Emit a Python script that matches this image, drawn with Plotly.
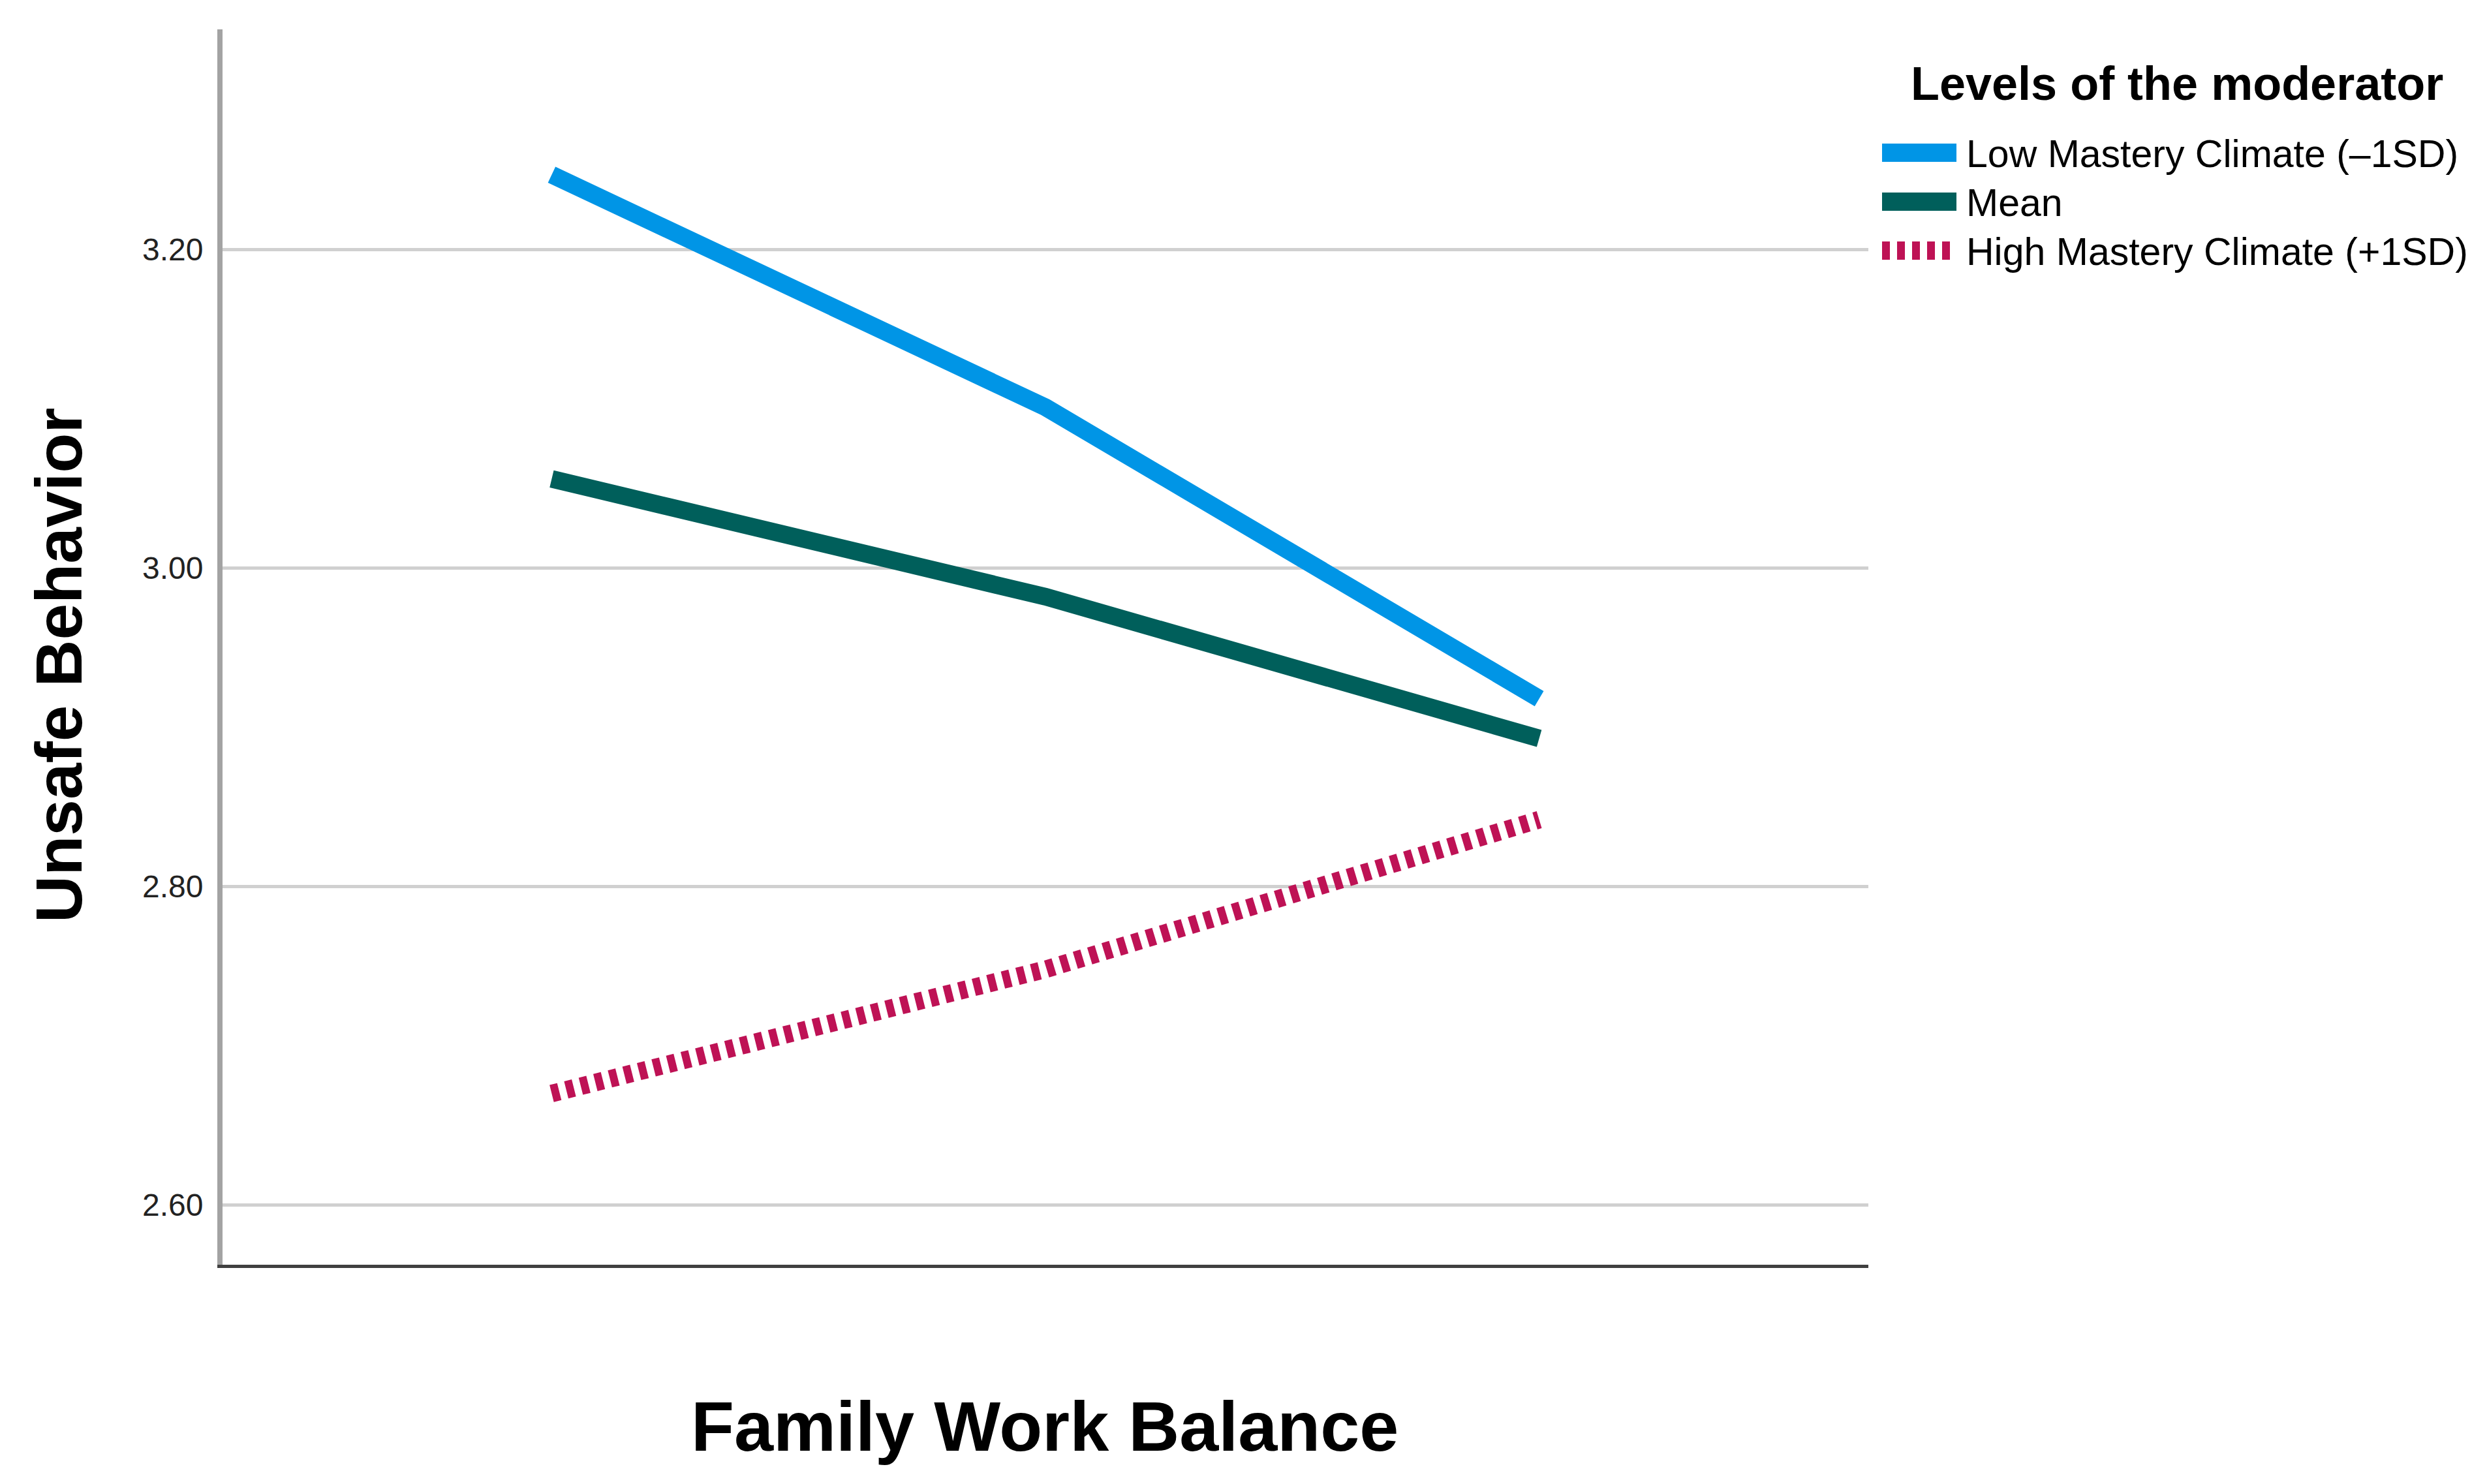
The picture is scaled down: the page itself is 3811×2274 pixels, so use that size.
import plotly.graph_objects as go

# Simple slopes: unsafe behavior by family work balance at three moderator levels
fwb_levels = ["-1SD", "Mean", "+1SD"]
low_mastery = [3.247, 3.101, 2.918]
mean_mastery = [3.056, 2.982, 2.893]
high_mastery = [2.670, 2.748, 2.842]

series_names = ["Low Mastery Climate (–1SD)", "Mean", "High Mastery Climate (+1SD)"]
series_colors = ["#0095E6", "#005F5B", "#BE1255"]
series_dash = ["solid", "solid", "12px,11px"]

y_ticks = [2.60, 2.80, 3.00, 3.20]

FONT = "Arial, Liberation Sans, sans-serif"

# figure size (page body has an 8px margin)
OFF = 8
W, H = 3811 - OFF, 2274 - OFF
X0, X1, Y0, Y1 = 341 - OFF, 2863 - OFF, 45 - OFF, 1938 - OFF


def px(x):
    return (x - OFF - X0) / (X1 - X0)


def py(y):
    return (Y1 - (y - OFF)) / (Y1 - Y0)


fig = go.Figure()

for name, vals, col, dash in zip(series_names, [low_mastery, mean_mastery, high_mastery],
                                 series_colors, series_dash):
    fig.add_trace(go.Scatter(
        x=fwb_levels, y=vals, mode="lines", name=name,
        line=dict(color=col, width=27, dash=dash),
        showlegend=False
    ))

# hand-made legend so the swatches match the original size
fig.add_annotation(
    x=px(3336), y=py(128), xref="paper", yref="paper",
    text="<b>Levels of the moderator</b>", showarrow=False,
    font=dict(family=FONT, size=72, color="black"),
    xanchor="center", yanchor="middle"
)
row_y = [236, 311, 386]
for name, col, dash, ry in zip(series_names, series_colors, series_dash, row_y):
    fig.add_shape(
        type="line", xref="paper", yref="paper",
        x0=px(2884), x1=px(2998), y0=py(ry - 2), y1=py(ry - 2),
        line=dict(color=col, width=28, dash=dash)
    )
    fig.add_annotation(
        x=px(3012), y=py(ry), xref="paper", yref="paper",
        text=name, showarrow=False,
        font=dict(family=FONT, size=59, color="black"),
        xanchor="left", yanchor="middle", borderpad=0
    )

# axis titles
fig.add_annotation(
    x=px(90), y=py(1020), xref="paper", yref="paper",
    text="<b>Unsafe Behavior</b>", showarrow=False, textangle=-90,
    font=dict(family=FONT, size=100, color="black"),
    xanchor="center", yanchor="middle"
)
fig.add_annotation(
    x=px(1601), y=py(2185), xref="paper", yref="paper",
    text="<b>Family Work Balance</b>", showarrow=False,
    font=dict(family=FONT, size=108, color="black"),
    xanchor="center", yanchor="middle"
)

fig.update_layout(
    width=W, height=H,
    margin=dict(l=X0, r=W - X1, t=Y0, b=H - Y1, pad=0),
    plot_bgcolor="white", paper_bgcolor="white",
    font=dict(family=FONT),
    showlegend=False,
    xaxis=dict(
        type="category", range=[-2 / 3, 8 / 3],
        showticklabels=False, showgrid=False, zeroline=False, ticks="",
        showline=True, linecolor="#404040", linewidth=5
    ),
    yaxis=dict(
        range=[2.5625, 3.3383],
        tickvals=y_ticks, ticktext=[f"{v:.2f}" for v in y_ticks],
        tickfont=dict(family=FONT, size=48, color="#222222"),
        showgrid=True, gridcolor="#d0d0d0", gridwidth=5, zeroline=False,
        showline=True, linecolor="#a3a3a3", linewidth=8,
        ticks="outside", ticklen=0, ticklabelstandoff=12
    )
)

fig.write_html("out.html")
